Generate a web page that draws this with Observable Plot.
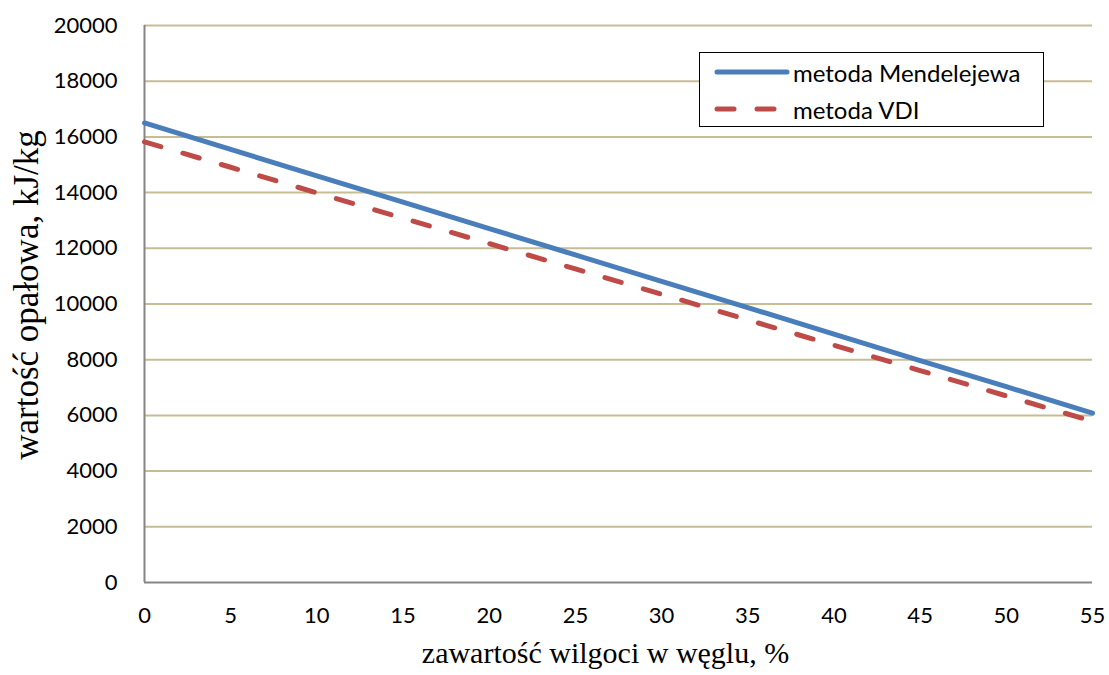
<!DOCTYPE html>
<html>
<head>
<meta charset="utf-8">
<script src="https://cdn.jsdelivr.net/npm/d3@7"></script>
<script src="https://cdn.jsdelivr.net/npm/@observablehq/plot@0.6"></script>
<style>
  html, body { margin: 0; padding: 0; background: #fff; }
  #chart { position: relative; width: 1109px; height: 675px; }
  #legend {
    position: absolute; left: 699px; top: 52px; width: 343px; height: 73px;
    border: 1.5px solid #000; background: #fff; box-sizing: content-box;
    font-family: Lato, "Open Sans", sans-serif; font-size: 24px; color: #000;
  }
  #legend .row { position: absolute; left: 14px; height: 30px; display: flex; align-items: center; white-space: nowrap; }
  #legend svg { margin-right: 3px; }
</style>
</head>
<body>
<div id="chart"></div>
<script>
// Moisture content of coal (%) and calorific value (kJ/kg) by two methods
const moisture = [0, 5, 10, 15, 20, 25, 30, 35, 40, 45, 50, 55];
const mendelejew = [16500, 15550, 14600, 13660, 12710, 11760, 10810, 9870, 8920, 7970, 7030, 6080];
const vdi = [15820, 14910, 13990, 13080, 12170, 11260, 10350, 9430, 8520, 7610, 6700, 5790];

const seriesNames = ["metoda Mendelejewa", "metoda VDI"];
const xTicks = [0, 5, 10, 15, 20, 25, 30, 35, 40, 45, 50, 55];
const yTicks = [0, 2000, 4000, 6000, 8000, 10000, 12000, 14000, 16000, 18000, 20000];
const xTitle = "zawartość wilgoci w węglu, %";
const yTitle = "wartość opałowa, kJ/kg";

const blue = "#4a7ebb";
const red = "#be4b48";

const rowsM = moisture.map((m, i) => ({m, q: mendelejew[i]}));
const rowsV = moisture.map((m, i) => ({m, q: vdi[i]}));

const chart = Plot.plot({
  width: 1109,
  height: 675,
  marginLeft: 144,
  marginRight: 17,
  marginTop: 25,
  marginBottom: 93,
  style: {fontFamily: "Lato, 'Open Sans', sans-serif", fontSize: "22px", color: "#000", background: "#fff"},
  x: {domain: [0, 55]},
  y: {domain: [0, 20000]},
  marks: [
    Plot.gridY(yTicks.filter(d => d > 0), {stroke: "#c6bd95", strokeOpacity: 1, strokeWidth: 2}),
    Plot.axisY(yTicks, {tickSize: 0, tickPadding: 27, label: null, tickFormat: d => String(d), fill: "#000"}),
    Plot.axisX(xTicks, {tickSize: 0, tickPadding: 25, label: null, tickFormat: d => String(d), fill: "#000"}),
    Plot.ruleY([0], {stroke: "#868686", strokeWidth: 2}),
    Plot.ruleX([0], {stroke: "#868686", strokeWidth: 2}),
    Plot.line(rowsM, {x: "m", y: "q", stroke: blue, strokeWidth: 5, strokeLinecap: "round"}),
    Plot.line(rowsV, {x: "m", y: "q", stroke: red, strokeWidth: 5, strokeLinecap: "round", strokeDasharray: "17,23"}),
    Plot.text([xTitle], {frameAnchor: "bottom", textAnchor: "middle", lineAnchor: "middle", dx: -13, dy: 71,
      fontFamily: "'Liberation Serif', 'Times New Roman', serif", fontSize: 30, fill: "#000"}),
    Plot.text([yTitle], {frameAnchor: "left", textAnchor: "middle", lineAnchor: "middle", rotate: -90, dx: -118, dy: -9,
      fontFamily: "'Liberation Serif', 'Times New Roman', serif", fontSize: 35, fill: "#000"})
  ]
});

const host = document.getElementById("chart");
host.appendChild(chart);

// Legend box
const legend = document.createElement("div");
legend.id = "legend";
const swatches = [
  {name: seriesNames[0], color: blue, dash: null},
  {name: seriesNames[1], color: red, dash: "17,23"}
];
swatches.forEach((s, i) => {
  const row = document.createElement("div");
  row.className = "row";
  row.style.top = (4 + i * 37) + "px";
  row.innerHTML = `<svg width="76" height="12"><line x1="3" y1="6" x2="73" y2="6" stroke="${s.color}" stroke-width="5" stroke-linecap="round"${s.dash ? ` stroke-dasharray="${s.dash}"` : ""}/></svg><span>${s.name}</span>`;
  legend.appendChild(row);
});
host.appendChild(legend);
</script>
</body>
</html>
